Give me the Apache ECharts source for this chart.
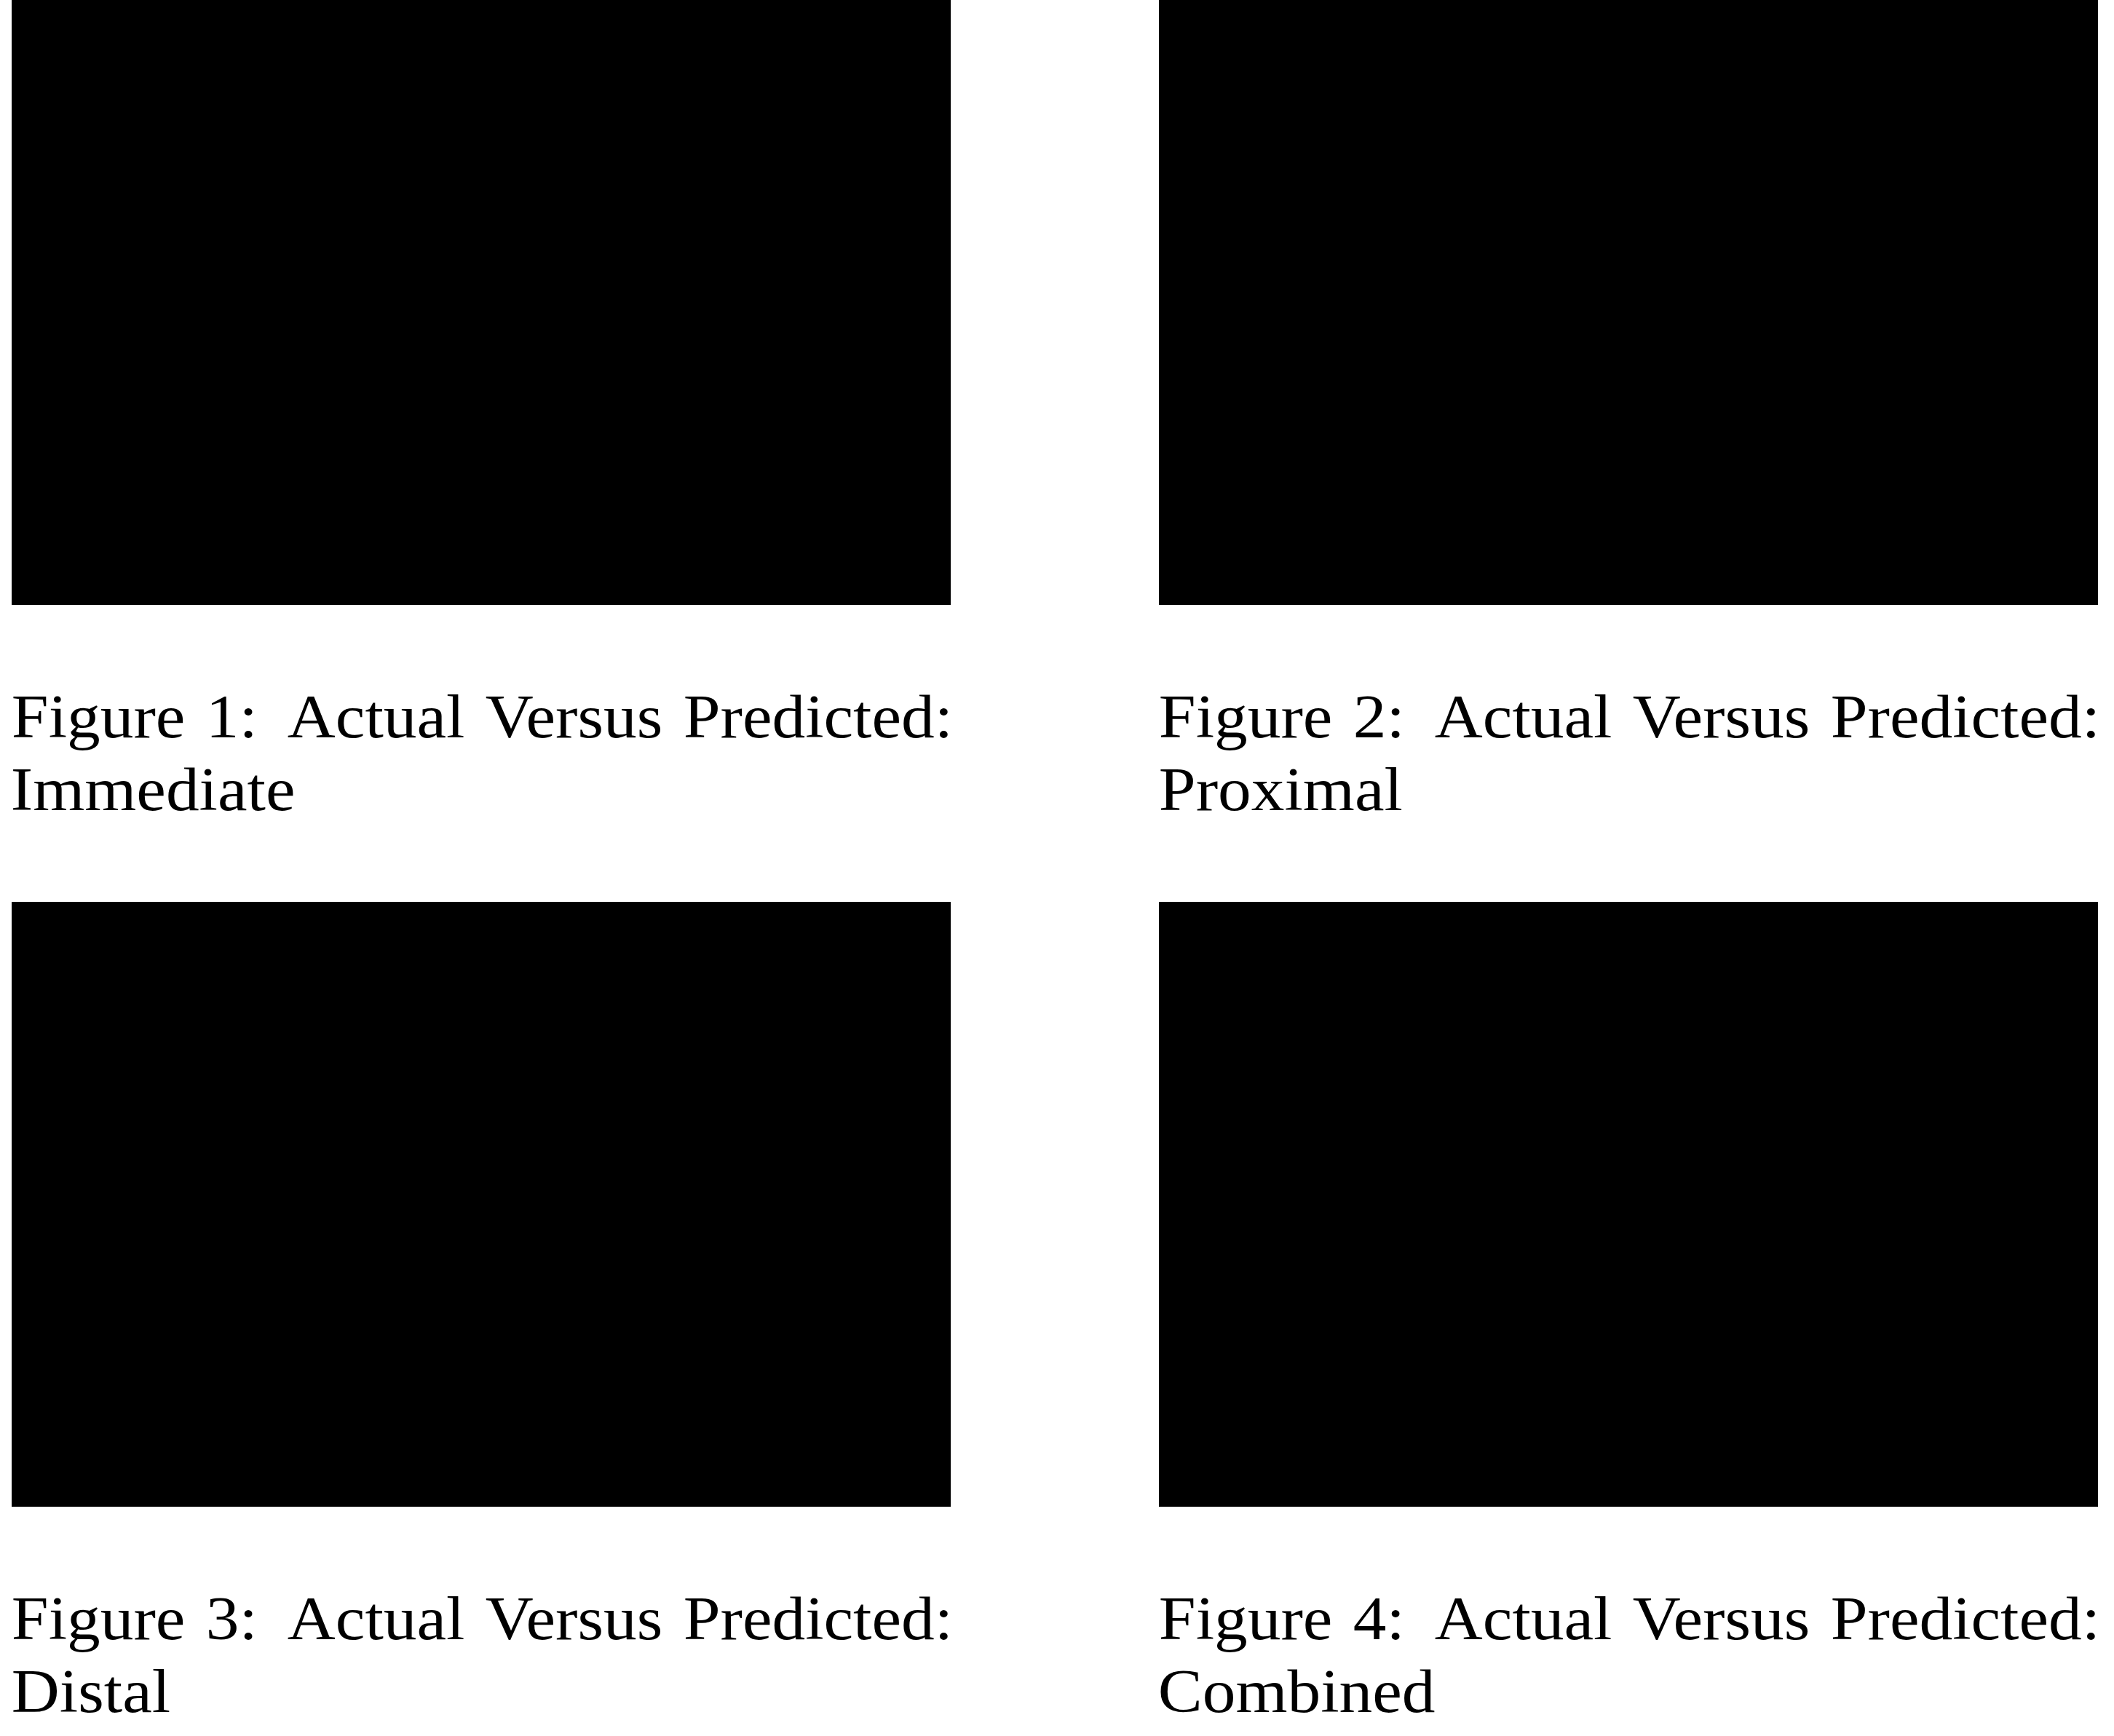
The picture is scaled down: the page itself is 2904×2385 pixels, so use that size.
<!DOCTYPE html>
<html>
<head>
<meta charset="utf-8">
<script src="https://cdn.jsdelivr.net/npm/echarts@6/dist/echarts.min.js"></script>
<style>
html,body{margin:0;padding:0;background:#fff;}
#chart{width:2904px;height:2385px;}
</style>
</head>
<body>
<div id="chart"></div>
<script>
// ---- content ----
const figureNumbers = ['1', '2', '3', '4'];
const captionPrefix = 'Figure';
const captionTitle = ['Actual', 'Versus', 'Predicted:'];
const panelNames = ['Immediate', 'Proximal', 'Distal', 'Combined'];
// each panel is an empty (blacked-out) image area: no plotted values
const panelValues = [[], [], [], []];

// ---- layout ----
const colLeft = [16, 1592];
const rowTop = [0, 1239];
const panelW = 1290, panelH = 831;
const captionBaseline1 = 1013, captionLineGap = 100;
const fontSize = 85, fontScaleX = 1.075;
const fontStr = fontSize + 'px "Liberation Serif"';

const chart = echarts.init(document.getElementById('chart'), null, {renderer: 'canvas'});

const ctx = document.createElement('canvas').getContext('2d');
ctx.font = fontStr;
ctx.textBaseline = 'middle';
const midToBase = ctx.measureText('H').actualBoundingBoxDescent;

const grids = [], xAxes = [], yAxes = [], series = [], graphics = [];
panelNames.forEach((name, i) => {
  const c = i % 2, r = Math.floor(i / 2);
  const left = colLeft[c], top = rowTop[r];
  grids.push({left: left, top: top, width: panelW, height: panelH, show: true,
    backgroundColor: '#000000', borderWidth: 0, containLabel: false});
  xAxes.push({gridIndex: i, type: 'value', show: false, min: 0, max: 1});
  yAxes.push({gridIndex: i, type: 'value', show: false, min: 0, max: 1});
  series.push({type: 'scatter', xAxisIndex: i, yAxisIndex: i, data: panelValues[i], silent: true});

  // caption line 1: justified words (wider space after a colon, as TeX does)
  const words = [captionPrefix, figureNumbers[i] + ':'].concat(captionTitle);
  const m = words.map(w => ctx.measureText(w));
  const inkStart = left + 2, inkEnd = left + panelW - 4;
  const startX = inkStart + m[0].actualBoundingBoxLeft * fontScaleX;
  const lastInkRight = m[m.length - 1].actualBoundingBoxRight * fontScaleX;
  const advances = m.map(t => t.width * fontScaleX);
  const weights = [];
  let total = 0, wsum = 0;
  for (let k = 0; k < words.length - 1; k++) {
    total += advances[k];
    const wgt = words[k].endsWith(':') ? 1.45 : 1;
    weights.push(wgt); wsum += wgt;
  }
  const unit = (inkEnd - lastInkRight - startX - total) / wsum;
  const base1 = top + captionBaseline1;
  let x = startX;
  words.forEach((w, k) => {
    graphics.push({type: 'text', x: x, y: base1 - midToBase, scaleX: fontScaleX,
      style: {text: w, font: fontStr, fill: '#000', align: 'left', verticalAlign: 'middle'}});
    if (k < weights.length) x += advances[k] + unit * weights[k];
  });
  // caption line 2
  const m2 = ctx.measureText(name);
  graphics.push({type: 'text', x: inkStart + m2.actualBoundingBoxLeft * fontScaleX,
    y: base1 + captionLineGap - midToBase, scaleX: fontScaleX,
    style: {text: name, font: fontStr, fill: '#000', align: 'left', verticalAlign: 'middle'}});
});

chart.setOption({
  backgroundColor: '#ffffff',
  animation: false,
  grid: grids,
  xAxis: xAxes,
  yAxis: yAxes,
  series: series,
  graphic: graphics
});
</script>
</body>
</html>
